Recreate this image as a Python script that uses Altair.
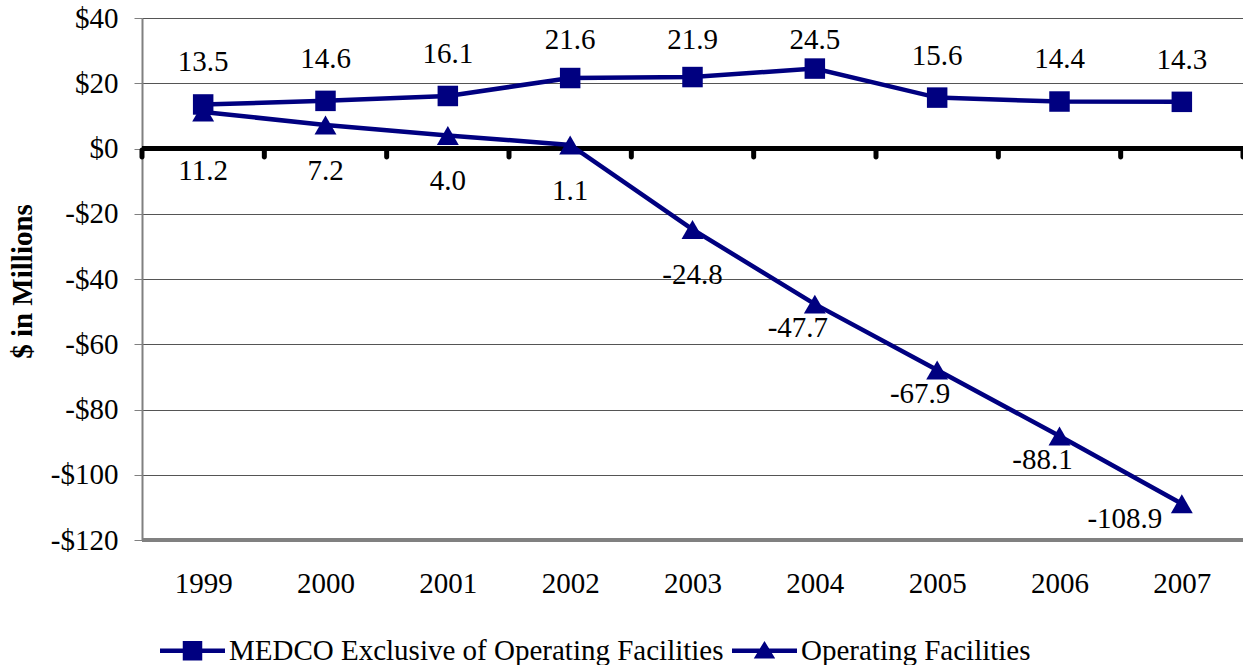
import altair as alt
import pandas as pd

years = [1999, 2000, 2001, 2002, 2003, 2004, 2005, 2006, 2007]
medco = [13.5, 14.6, 16.1, 21.6, 21.9, 24.5, 15.6, 14.4, 14.3]
opfac = [11.2, 7.2, 4.0, 1.1, -24.8, -47.7, -67.9, -88.1, -108.9]
series_names = ["MEDCO Exclusive of Operating Facilities", "Operating Facilities"]
y_ticks = [-120, -100, -80, -60, -40, -20, 0, 20, 40]

NAVY = "#000080"
FONT = "Liberation Serif"
FS = 29

rows = []
for yr, v in zip(years, medco):
    rows.append({"year": yr, "value": v, "series": series_names[0], "label": f"{v:.1f}"})
for yr, v in zip(years, opfac):
    rows.append({"year": yr, "value": v, "series": series_names[1], "label": f"{v:.1f}"})
df = pd.DataFrame(rows)

bounds = pd.DataFrame({"b": [y - 0.5 for y in years] + [years[-1] + 0.5]})

xscale = alt.Scale(domain=[years[0] - 0.5, years[-1] + 0.5], nice=False, zero=False)
yscale = alt.Scale(domain=[-120, 40], nice=False, zero=False)

x_enc = alt.X("year:Q", scale=xscale,
              axis=alt.Axis(values=years, format="d", grid=False, domain=False, ticks=False,
                            labelFont=FONT, labelFontSize=FS, labelColor="black",
                            labelPadding=29, title=None, labelFlush=False))
y_enc = alt.Y("value:Q", scale=yscale,
              axis=alt.Axis(values=y_ticks, grid=True, gridColor="#555555", gridWidth=1,
                            domain=True, domainColor="#808080", domainWidth=2,
                            ticks=True, tickColor="#808080", tickSize=8, tickWidth=1,
                            labelFont=FONT, labelFontSize=FS, labelColor="black", labelPadding=16,
                            labelExpr="datum.value < 0 ? '-$' + abs(datum.value) : '$' + datum.value",
                            title="$ in Millions", titleFont=FONT, titleFontSize=29,
                            titleFontWeight="bold", titleColor="black", titleAngle=270,
                            titleX=-120, titleY=263, titleAlign="center", titleBaseline="middle"))

base = alt.Chart(df)

bottom_rule = alt.Chart(df).mark_rule(color="#808080", strokeWidth=3).encode(y=alt.datum(-120))
zero_rule = alt.Chart(df).mark_rule(color="black", strokeWidth=5).encode(y=alt.datum(0))
zero_ticks = alt.Chart(bounds).mark_tick(orient="vertical", size=12, thickness=5, yOffset=5,
                                          cornerRadius=2.5, color="black", opacity=1).encode(
    x=alt.X("b:Q", scale=xscale), y=alt.datum(0))

lines = base.mark_line(strokeWidth=4.5, color=NAVY).encode(
    x=x_enc, y=y_enc, detail="series:N")

squares = base.transform_filter(alt.datum.series == series_names[0]).mark_point(
    shape="square", filled=True, size=420, color=NAVY, opacity=1).encode(x="year:Q", y="value:Q")
triangles = base.transform_filter(alt.datum.series == series_names[1]).mark_point(
    shape="triangle-up", filled=True, size=480, color=NAVY, opacity=1).encode(x="year:Q", y="value:Q")

txt = dict(font=FONT, fontSize=FS, color="black", align="center", baseline="middle")
top_labels = base.transform_filter(alt.datum.series == series_names[0]).transform_calculate(
    ly="min(datum.value + 12.9, 33.2)").mark_text(**txt).encode(
    x="year:Q", y="ly:Q", text="label:N")
bot_a = base.transform_filter(
    (alt.datum.series == series_names[1]) & (alt.datum.year <= 2003)).transform_calculate(
    ly="min(datum.value - 14.1, -7)").mark_text(**txt).encode(
    x="year:Q", y="ly:Q", text="label:N")
bot_b = base.transform_filter(
    (alt.datum.series == series_names[1]) & (alt.datum.year >= 2004) & (alt.datum.year <= 2006)).mark_text(
    dy=24, dx=-17, **txt).encode(
    x="year:Q", y="value:Q", text="label:N")
bot_c = base.transform_filter(
    (alt.datum.series == series_names[1]) & (alt.datum.year == 2007)).mark_text(
    dy=15, dx=-57, **txt).encode(
    x="year:Q", y="value:Q", text="label:N")

path_sq = "M-1,-0.07L1,-0.07L1,0.07L-1,0.07Z M-0.3,-0.3L0.3,-0.3L0.3,0.3L-0.3,0.3Z"
path_tri = "M-1,-0.07L1,-0.07L1,0.07L-1,0.07Z M0,-0.3L0.33,0.24L-0.33,0.24Z"

leg = alt.Legend(title=None, orient="none", legendX=18, legendY=600, direction="horizontal",
                 labelFont=FONT, labelFontSize=FS, labelColor="black", symbolSize=4225,
                 symbolOpacity=1, symbolStrokeWidth=0, labelOffset=4, columnPadding=8,
                 labelLimit=800)
legend_layer = base.mark_point(filled=True, opacity=0).encode(
    x="year:Q", y="value:Q",
    color=alt.Color("series:N", scale=alt.Scale(domain=series_names, range=[NAVY, NAVY]), legend=leg),
    shape=alt.Shape("series:N", scale=alt.Scale(domain=series_names, range=[path_sq, path_tri]), legend=leg))

chart = alt.layer(bottom_rule, zero_rule, zero_ticks, lines, squares, triangles,
                  top_labels, bot_a, bot_b, bot_c, legend_layer).properties(
    width=1101, height=522,
    autosize=alt.AutoSizeParams(type="none"),
    padding={"left": 142, "top": 18, "right": 0, "bottom": 125},
).configure_view(stroke=None).configure(background="white")

chart.save("out.html", embed_options={"renderer": "svg", "actions": False})
